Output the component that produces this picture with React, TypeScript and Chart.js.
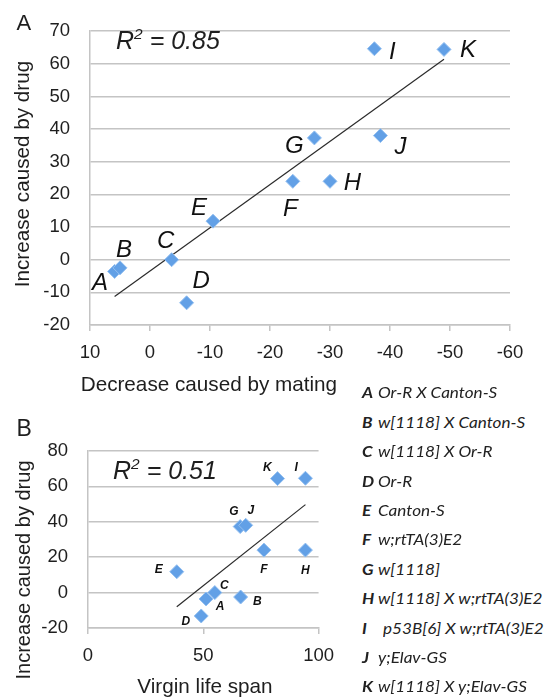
import React, { useEffect, useRef } from "react";
import { Chart, registerables } from "chart.js";

Chart.register(...registerables);

// ---------- data ----------
const pointNames = ["A", "B", "C", "D", "E", "F", "G", "H", "I", "J", "K"];
const drugIncrease = [-3.6, -2.5, 0, -13.2, 11.8, 24, 37.3, 24, 64.6, 38, 64.4];
const matingDecrease = [5.9, 5.0, -3.6, -6.1, -10.5, -23.8, -27.4, -30, -37.4, -38.4, -49];
const virginLifeSpan = [51.2, 66.2, 55, 49.1, 38.5, 76.3, 66, 94.3, 94.3, 68.4, 82.2];
const trendAX = [5.9, -49];
const trendAY = [-11.3, 61.4];
const trendBX = [38.5, 94.3];
const trendBY = [-8, 49.7];
const legendNames = [
  "Or-R X Canton-S",
  "w[1118] X Canton-S",
  "w[1118] X Or-R",
  "Or-R",
  "Canton-S",
  "w;rtTA(3)E2",
  "w[1118]",
  "w[1118] X w;rtTA(3)E2",
  "p53B[6] X w;rtTA(3)E2",
  "y;Elav-GS",
  "w[1118] X y;Elav-GS",
];
const r2A = "0.85";
const r2B = "0.51";

// label offsets (pixels, relative to marker centre)
const labelOffsetsA = [
  [-14.5, 10], [4, -19], [-6, -20], [14.5, -23], [-14, -15], [-2.5, 26.5],
  [-20, 6.5], [22.5, 0], [18, 1.5], [20, 10], [24, -1],
];
const labelOffsetsB = [
  [14, 7], [16.7, 4], [9.4, -8.3], [-15.3, 5], [-18, -3], [0, 19],
  [-6.2, -16], [0, 20], [-9.3, -12], [5.2, -16], [-10.3, -12],
];

const FONT = "'Liberation Sans', Arial, Helvetica, sans-serif";
const LEGEND_FONT = "Lato, 'Open Sans', sans-serif";
const TEXT = "#1e1e1e";
const GRID = "#c4c4c4";
const MARK_FILL = "#62a0e6";
const MARK_EDGE = "#93bff0";

function makeLabelPlugin(id: string, labels: string[], offsets: number[][], size: number, weight: string) {
  return {
    id,
    afterDatasetsDraw(chart: any) {
      const meta = chart.getDatasetMeta(0);
      const ctx = chart.ctx;
      ctx.save();
      ctx.font = `italic ${weight} ${size}px ${FONT}`;
      ctx.fillStyle = "#111";
      ctx.textAlign = "center";
      ctx.textBaseline = "alphabetic";
      meta.data.forEach((el: any, i: number) => {
        const [dx, dy] = offsets[i];
        ctx.fillText(labels[i], el.x + dx, el.y + dy + size * 0.716 / 2);
      });
      ctx.restore();
    },
  };
}

function pointsDataset(xs: number[], ys: number[]) {
  return {
    data: xs.map((x, i) => ({ x, y: ys[i] })),
    pointStyle: "rectRot",
    pointRadius: 7,
    backgroundColor: MARK_FILL,
    borderColor: MARK_EDGE,
    borderWidth: 1,
    showLine: false,
  };
}

function trendDataset(xs: number[], ys: number[]) {
  return {
    data: xs.map((x, i) => ({ x, y: ys[i] })),
    showLine: true,
    pointRadius: 0,
    borderColor: "#2a2a2a",
    borderWidth: 1.2,
    fill: false,
  };
}

function axis(min: number, max: number, step: number, reverse: boolean, horizontal: boolean, fixed: number) {
  return {
    type: "linear",
    min,
    max,
    reverse,
    ticks: {
      stepSize: step,
      font: { family: FONT, size: 18.5 },
      color: TEXT,
      padding: horizontal ? 11 : 20,
      maxRotation: 0,
    },
    grid: horizontal
      ? { drawOnChartArea: false, drawTicks: true, tickLength: 6, color: GRID, lineWidth: 1.5 }
      : { drawTicks: false, color: GRID, lineWidth: 1.5 },
    border: { display: true, color: GRID, width: 1.5 },
    afterFit: (s: any) => {
      if (horizontal) s.height = fixed;
      else s.width = fixed;
    },
  };
}

export default function App() {
  const refA = useRef<HTMLCanvasElement>(null);
  const refB = useRef<HTMLCanvasElement>(null);

  useEffect(() => {
    const chartA = new Chart(refA.current as HTMLCanvasElement, {
      type: "scatter",
      data: {
        datasets: [pointsDataset(matingDecrease, drugIncrease), trendDataset(trendAX, trendAY)] as any,
      },
      options: {
        responsive: false,
        animation: false,
        events: [],
        layout: { padding: { left: 0, right: 35, top: 22, bottom: 0 } },
        plugins: { legend: { display: false }, tooltip: { enabled: false } },
        scales: {
          x: axis(-60, 10, 10, true, true, 75) as any,
          y: axis(-20, 70, 10, false, false, 90) as any,
        },
      },
      plugins: [makeLabelPlugin("labelsA", pointNames, labelOffsetsA, 24, "normal")],
    });
    const chartB = new Chart(refB.current as HTMLCanvasElement, {
      type: "scatter",
      data: {
        datasets: [pointsDataset(virginLifeSpan, drugIncrease), trendDataset(trendBX, trendBY)] as any,
      },
      options: {
        responsive: false,
        animation: false,
        events: [],
        layout: { padding: { left: 0, right: 20, top: 51, bottom: 0 } },
        plugins: { legend: { display: false }, tooltip: { enabled: false } },
        scales: {
          x: axis(0, 100, 50, false, true, 72) as any,
          y: axis(-20, 80, 20, false, false, 88) as any,
        },
      },
      plugins: [makeLabelPlugin("labelsB", pointNames, labelOffsetsB, 12, "bold")],
    });
    return () => {
      chartA.destroy();
      chartB.destroy();
    };
  }, []);

  const abs = (left: number, top: number, size: number, extra: any = {}) => ({
    position: "absolute" as const,
    left,
    top,
    fontSize: size,
    lineHeight: `${size}px`,
    whiteSpace: "nowrap" as const,
    color: TEXT,
    fontFamily: FONT,
    ...extra,
  });

  const legendF = 14.5;
  const legendStyle = (left: number, i: number, bold: boolean) =>
    abs(left, 394 + i * 29.4 - legendF * 0.527, legendF, {
      fontFamily: LEGEND_FONT,
      fontStyle: "italic",
      fontWeight: bold ? 700 : 400,
      color: "#222",
      transform: "scaleX(1.18)",
      transformOrigin: "0 50%",
    });

  return (
    <div style={{ position: "absolute", left: 0, top: 0, width: 545, height: 700, background: "#fff", overflow: "hidden" }}>
      <canvas ref={refA} width={545} height={400} style={{ position: "absolute", left: 0, top: 0, width: 545, height: 400 }} />
      <canvas ref={refB} width={345} height={300} style={{ position: "absolute", left: 0, top: 400, width: 345, height: 300 }} />

      {/* panel letters */}
      <div style={abs(16.5, 12, 22)}>A</div>
      <div style={abs(16.5, 417, 23)}>B</div>

      {/* R squared */}
      <div style={abs(116, 27.5, 25, { fontStyle: "italic" })}>
        R<span style={{ fontSize: "0.62em", position: "relative", top: "-0.6em" }}>2</span> = {r2A}
      </div>
      <div style={abs(113, 457.5, 25, { fontStyle: "italic" })}>
        R<span style={{ fontSize: "0.62em", position: "relative", top: "-0.6em" }}>2</span> = {r2B}
      </div>

      {/* axis titles */}
      <div style={abs(80.7, 374.4, 20.7)}>Decrease caused by mating</div>
      <div style={abs(21.7, 173.5, 20.7, { transform: "translate(-50%, -50%) rotate(-90deg)" })}>Increase caused by drug</div>
      <div style={abs(137.3, 676, 20.7)}>Virgin life span</div>
      <div style={abs(23.4, 570, 20, { transform: "translate(-50%, -50%) rotate(-90deg)" })}>Increase caused by drug</div>

      {/* legend */}
      {pointNames.map((n, i) => (
        <React.Fragment key={n}>
          <div style={legendStyle(362, i, true)}>{n}</div>
          <div style={legendStyle(n === "I" ? 383 : 378.3, i, false)}>{legendNames[i]}</div>
        </React.Fragment>
      ))}
    </div>
  );
}
